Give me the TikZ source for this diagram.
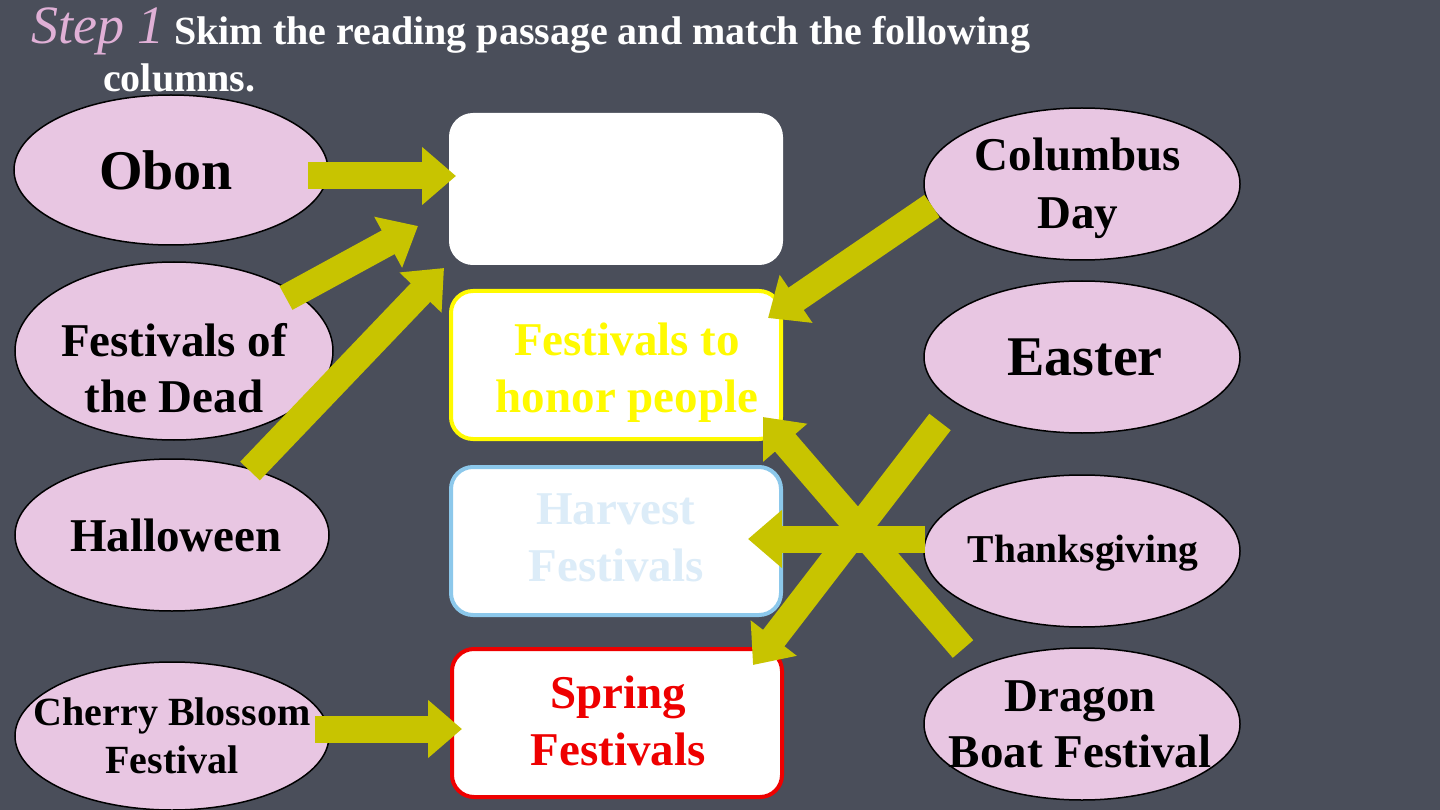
\documentclass[tikz,border=0pt]{standalone}
\usepackage{fontspec}
\setmainfont{Liberation Serif}
\usetikzlibrary{shapes.geometric,arrows.meta}
\definecolor{bgc}{RGB}{74,78,90}
\definecolor{pinkc}{RGB}{232,198,226}
\definecolor{arrowc}{RGB}{200,196,0}
\definecolor{stepc}{RGB}{224,176,214}
\definecolor{yelc}{RGB}{255,250,0}
\definecolor{bluec}{RGB}{140,200,235}
\definecolor{bluetxt}{RGB}{220,236,248}
\definecolor{redc}{RGB}{238,0,0}
\tikzset{
  fest/.style={ellipse, draw=black, line width=1.5pt, fill=pinkc, inner sep=0pt,
    minimum width=314pt, minimum height=152pt},
  festtxt/.style={inner sep=0pt, align=center, text=black, font=\bfseries\fontsize{47}{56}\selectfont},
  catbox/.style={rectangle, rounded corners=22pt, fill=white, line width=4pt,
    minimum width=330pt, minimum height=148pt, inner sep=0pt},
  cattxt/.style={inner sep=0pt, align=center, font=\bfseries\fontsize{47}{57}\selectfont},
  blockarrow/.style={draw=arrowc, line width=27pt,
    -{Triangle[width=56pt 0,length=34pt 0]}},
}
\begin{document}
\begin{tikzpicture}[x=1pt,y=-1pt]
\fill[bgc] (0,0) rectangle (1440,810);
\useasboundingbox (0,0) rectangle (1440,810);
% title
\node[anchor=base west, inner sep=0pt, text=stepc, font=\itshape\fontsize{54}{54}\selectfont] (step) at (31,44) {Step 1};
\node[anchor=base west, inner sep=0pt, text=white, font=\bfseries\fontsize{40}{40}\selectfont] (t1) at (174,45) {Skim the reading passage and match the following};
\node[anchor=base west, inner sep=0pt, text=white, font=\bfseries\fontsize{40}{40}\selectfont] (t2) at (103,92) {columns.};
% left ellipses
\node[fest, minimum height=150pt] (obon) at (171,170) {};
\node[festtxt, font=\bfseries\fontsize{56}{60}\selectfont] (obonT) at (166,170) {Obon};
\node[fest, minimum width=318pt, minimum height=178pt] (dead) at (174,351) {};
\node[festtxt] (deadT) at (174,368) {Festivals of\\the Dead};
\node[fest] (hall) at (172,535) {};
\node[festtxt] (hallT) at (176,535) {Halloween};
\node[fest, minimum height=148pt] (cherry) at (172,736) {};
\node[festtxt, font=\bfseries\fontsize{40}{48}\selectfont] (cherryT) at (172,736) {Cherry Blossom\\Festival};
% right ellipses
\node[fest, minimum width=316pt] (colum) at (1082,184) {};
\node[festtxt, font=\bfseries\fontsize{47}{58}\selectfont] (columT) at (1078,188) {Columbus\\Day};
\node[fest, minimum width=316pt] (easter) at (1082,357) {};
\node[festtxt, font=\bfseries\fontsize{56}{60}\selectfont] (easterT) at (1085,357) {Easter};
\node[fest, minimum width=316pt] (thanks) at (1082,551) {};
\node[festtxt, font=\bfseries\fontsize{39.5}{44}\selectfont] (thanksT) at (1083,553) {Thanksgiving};
\node[fest, minimum width=316pt] (dragon) at (1082,724) {};
\node[festtxt] (dragonT) at (1080,724) {Dragon\\Boat Festival};
% boxes
\node[catbox, draw=white] (b1) at (616,189) {};
\node[catbox, draw=yelc] (b2) at (616,365) {};
\node[cattxt, text=yelc] (b2T) at (627,373) {Festivals to\\honor people};
\node[catbox, draw=bluec] (b3) at (616,541) {};
\node[cattxt, text=bluetxt] (b3T) at (616,538) {Harvest\\Festivals};
\node[catbox, draw=redc] (b4) at (617,723) {};
\node[cattxt, text=redc] (b4T) at (618,721) {Spring\\Festivals};
% arrow end points
\coordinate (a1s) at (308,176);  \coordinate (a1e) at (456,176);
\coordinate (a2s) at (286,298);  \coordinate (a2e) at (418,226);
\coordinate (a3s) at (250,471);  \coordinate (a3e) at (444,268);
\coordinate (a4s) at (932,206);  \coordinate (a4e) at (768,318);
\coordinate (a5s) at (940,422);  \coordinate (a5e) at (753,665);
\coordinate (a6s) at (963,649);  \coordinate (a6e) at (763,417);
\coordinate (a7s) at (925,539);  \coordinate (a7e) at (748,539);
\coordinate (a8s) at (315,729);  \coordinate (a8e) at (462,729);
\draw[blockarrow] (a1s) -- (a1e);
\draw[blockarrow] (a2s) -- (a2e);
\draw[blockarrow] (a3s) -- (a3e);
\draw[blockarrow] (a4s) -- (a4e);
\draw[blockarrow] (a5s) -- (a5e);
\draw[blockarrow] (a7s) -- (a7e);
\draw[blockarrow] (a6s) -- (a6e);
\draw[blockarrow] (a8s) -- (a8e);
\end{tikzpicture}
\end{document}
